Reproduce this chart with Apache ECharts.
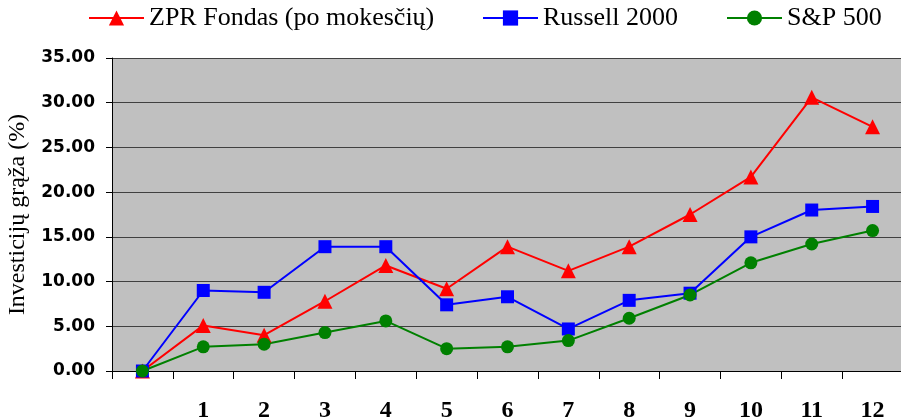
<!DOCTYPE html>
<html>
<head>
<meta charset="utf-8">
<script src="https://cdn.jsdelivr.net/npm/echarts@6/dist/echarts.min.js"></script>
<style>
html,body{margin:0;padding:0;background:#fff;}
#c{width:901px;height:420px;}
</style>
</head>
<body>
<div id="c"></div>
<script>
var categories = ['', '1', '2', '3', '4', '5', '6', '7', '8', '9', '10', '11', '12'];
var zprFondas = [0, 5.1, 4.0, 7.8, 11.8, 9.2, 13.9, 11.2, 13.9, 17.5, 21.7, 30.6, 27.3];
var russell2000 = [0, 9.0, 8.8, 13.9, 13.9, 7.4, 8.3, 4.7, 7.9, 8.7, 15.0, 18.0, 18.4];
var sp500 = [0, 2.7, 3.0, 4.3, 5.6, 2.5, 2.7, 3.4, 5.9, 8.5, 12.1, 14.2, 15.7];
var seriesNames = ['ZPR Fondas (po mokesčių)', 'Russell 2000', 'S&P 500'];
var yAxisName = 'Investicijų grąža (%)';

var serif = '"Liberation Serif", "Times New Roman", serif';
var chart = echarts.init(document.getElementById('c'));
function legend(name, left) {
  return {
    data: [name], left: left, top: 5, itemWidth: 55, itemHeight: 19, itemGap: 5,
    textStyle: {fontFamily: serif, fontSize: 26, color: '#000', padding: [0,0,0,0]},
    padding: 0
  };
}
chart.setOption({
  animation: false,
  backgroundColor: '#fff',
  legend: [legend(seriesNames[0], 88), legend(seriesNames[1], 482), legend(seriesNames[2], 726)],
  grid: {left: 112, top: 58, width: 791, height: 313, backgroundColor: '#C0C0C0', show: true, borderWidth: 0,
    containLabel: false, outerBoundsMode: 'none'},
  xAxis: {
    type: 'category', data: categories, boundaryGap: true,
    axisLine: {lineStyle: {color: '#000', width: 1}},
    axisTick: {show: true, length: 8, lineStyle: {color: '#000'}},
    axisLabel: {margin: 28, fontFamily: serif, fontWeight: 'bold', fontSize: 24, color: '#000'},
    splitLine: {show: false}
  },
  yAxis: {
    type: 'value', min: 0, max: 35, interval: 5,
    name: yAxisName, nameLocation: 'middle', nameGap: 82,
    nameTextStyle: {fontFamily: serif, fontSize: 24, color: '#000'},
    axisLine: {show: true, lineStyle: {color: '#000', width: 1}},
    axisTick: {show: true, length: 6, lineStyle: {color: '#000'}},
    axisLabel: {margin: 17, fontFamily: '"DejaVu Sans", sans-serif', fontWeight: 'bold', fontSize: 17, color: '#000',
      formatter: function (v) { return v.toFixed(2); }},
    splitLine: {show: true, lineStyle: {color: '#404040', width: 1}}
  },
  series: [
    {name: seriesNames[0], type: 'line', data: zprFondas, symbol: 'triangle', symbolSize: 15,
     color: '#FF0000', lineStyle: {width: 2}, itemStyle: {color: '#FF0000'}},
    {name: seriesNames[1], type: 'line', data: russell2000, symbol: 'rect', symbolSize: 13,
     color: '#0000FF', lineStyle: {width: 2}, itemStyle: {color: '#0000FF'}},
    {name: seriesNames[2], type: 'line', data: sp500, symbol: 'circle', symbolSize: 13,
     color: '#008000', lineStyle: {width: 2}, itemStyle: {color: '#008000'}}
  ]
});
</script>
</body>
</html>
